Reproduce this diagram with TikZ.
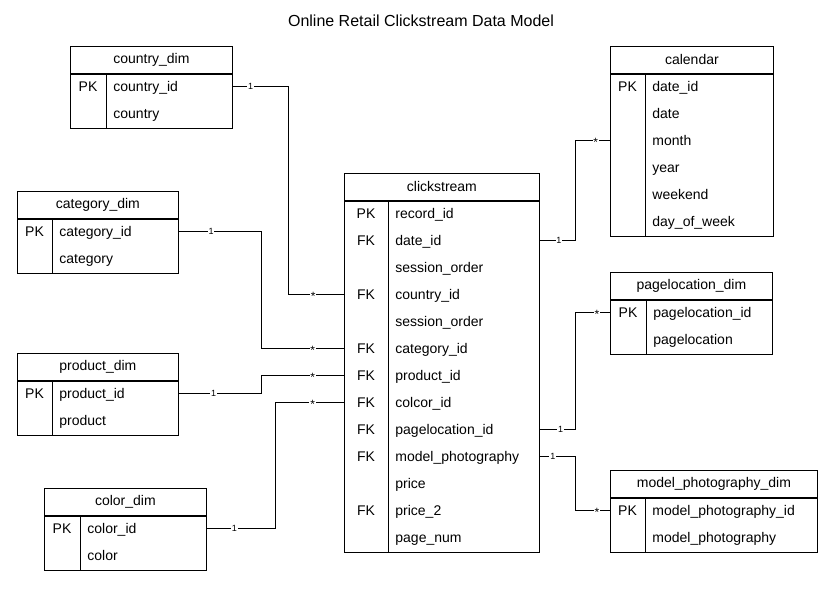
\documentclass[tikz,border=0pt]{standalone}
\usepackage{fontspec}
\setmainfont{Liberation Sans}
\usepackage{tikz}
\usetikzlibrary{positioning,calc}

\begin{document}
\begin{tikzpicture}[
    x=1pt, y=-1pt, line width=0.8pt,
    tabhead/.style={draw, minimum height=27, inner sep=0pt, anchor=north west, font=\fontsize{14}{16}\selectfont},
    tabbody/.style={draw, inner sep=0pt},
    keytext/.style={inner sep=0pt, text height=10pt, text depth=0pt, font=\fontsize{14}{16}\selectfont},
    field/.style={keytext, anchor=west},
    card/.style={fill=white, inner sep=0.8pt, text height=6.4pt, text depth=0pt, font=\fontsize{9}{9}\selectfont},
    starcard/.style={card, yshift=-2.5pt, font=\fontsize{12}{12}\selectfont}
]
\useasboundingbox (0,0) rectangle (837,590);

% Title
\node[font=\fontsize{16}{19}\selectfont, anchor=base] (title) at (421,26.5) {Online Retail Clickstream Data Model};

% country_dim
\node[tabhead, minimum width=162] (cdh) at (70,46) {country\_dim};
\node[tabbody, minimum width=162, minimum height=54, below=0pt of cdh] (cdb) {};
\draw ([xshift=36]cdb.north west) -- ([xshift=36]cdb.south west);
\node[keytext] (cdk) at (88,86.5) {PK};
\node[field] (cd1) at (113,86.5) {country\_id};
\node[field] (cd2) at (113,113.5) {country};

% category_dim
\node[tabhead, minimum width=161] (cgh) at (17,191) {category\_dim};
\node[tabbody, minimum width=161, minimum height=54, below=0pt of cgh] (cgb) {};
\draw ([xshift=35]cgb.north west) -- ([xshift=35]cgb.south west);
\node[keytext] (cgk) at (34.5,231.5) {PK};
\node[field] (cg1) at (59,231.5) {category\_id};
\node[field] (cg2) at (59,258.5) {category};

% product_dim
\node[tabhead, minimum width=161] (pdh) at (17,353) {product\_dim};
\node[tabbody, minimum width=161, minimum height=54, below=0pt of pdh] (pdb) {};
\draw ([xshift=35]pdb.north west) -- ([xshift=35]pdb.south west);
\node[keytext] (pdk) at (34.5,393) {PK};
\node[field] (pd1) at (59,393) {product\_id};
\node[field] (pd2) at (59,420) {product};

% color_dim
\node[tabhead, minimum width=162] (clh) at (44,488) {color\_dim};
\node[tabbody, minimum width=162, minimum height=54, below=0pt of clh] (clb) {};
\draw ([xshift=36]clb.north west) -- ([xshift=36]clb.south west);
\node[keytext] (clk) at (62,528.5) {PK};
\node[field] (cl1) at (87,528.5) {color\_id};
\node[field] (cl2) at (87,555.5) {color};

% clickstream (fact table)
\node[tabhead, minimum width=195] (csh) at (344,173) {clickstream};
\node[tabbody, minimum width=195, minimum height=351, below=0pt of csh] (csb) {};
\draw ([xshift=44]csb.north west) -- ([xshift=44]csb.south west);
\foreach \f [count=\i] in {record\_id, date\_id, session\_order, country\_id, session\_order, category\_id, product\_id, colcor\_id, pagelocation\_id, model\_photography, price, price\_2, page\_num}
    \node[field] (cs\i) at (395,{186.5+27*\i}) {\f};
\foreach \k/\i in {PK/1, FK/2, FK/4, FK/6, FK/7, FK/8, FK/9, FK/10, FK/12}
    \node[keytext] (csk\i) at (366,{186.5+27*\i}) {\k};

% calendar
\node[tabhead, minimum width=163] (cah) at (610,46) {calendar};
\node[tabbody, minimum width=163, minimum height=162, below=0pt of cah] (cab) {};
\draw ([xshift=35]cab.north west) -- ([xshift=35]cab.south west);
\node[keytext] (cak) at (627.5,86.5) {PK};
\foreach \f [count=\i] in {date\_id, date, month, year, weekend, day\_of\_week}
    \node[field] (ca\i) at (652,{59.5+27*\i}) {\f};

% pagelocation_dim
\node[tabhead, minimum width=162] (plh) at (610,272) {pagelocation\_dim};
\node[tabbody, minimum width=162, minimum height=54, below=0pt of plh] (plb) {};
\draw ([xshift=36]plb.north west) -- ([xshift=36]plb.south west);
\node[keytext] (plk) at (628,312.5) {PK};
\node[field] (pl1) at (653,312.5) {pagelocation\_id};
\node[field] (pl2) at (653,339.5) {pagelocation};

% model_photography_dim
\node[tabhead, minimum width=207] (mph) at (610,470) {model\_photography\_dim};
\node[tabbody, minimum width=207, minimum height=54, below=0pt of mph] (mpb) {};
\draw ([xshift=35]mpb.north west) -- ([xshift=35]mpb.south west);
\node[keytext] (mpk) at (627.5,510.5) {PK};
\node[field] (mp1) at (652,510.5) {model\_photography\_id};
\node[field] (mp2) at (652,537.5) {model\_photography};

% Relations, left side
\draw (cdb.east |- cd1) -- node[card, pos=0.32] {1} ++(56,0) |- node[starcard, pos=0.72] {*} (csb.west |- cs4);
\draw (cgb.east |- cg1) -- node[card, pos=0.39] {1} ++(83,0) |- node[starcard, pos=0.81] {*} (csb.west |- cs6);
\draw (pdb.east |- pd1) -- node[card, pos=0.42] {1} ++(83,0) |- node[starcard, pos=0.81] {*} (csb.west |- cs7);
\draw (clb.east |- cl1) -- node[card, pos=0.40] {1} ++(69,0) |- node[starcard, pos=0.77] {*} (csb.west |- cs8);

% Relations, right side
\draw (csb.east |- cs2) -- node[card, pos=0.53] {1} ++(36,0) |- node[starcard, pos=0.79] {*} (cab.west |- ca3);
\draw (csb.east |- cs9) -- node[card, pos=0.58] {1} ++(36,0) |- node[starcard, pos=0.81] {*} (plb.west |- pl1);
\draw (csb.east |- cs10) -- node[card, pos=0.36] {1} ++(36,0) |- node[starcard, pos=0.81] {*} (mpb.west |- mp1);
\end{tikzpicture}
\end{document}
